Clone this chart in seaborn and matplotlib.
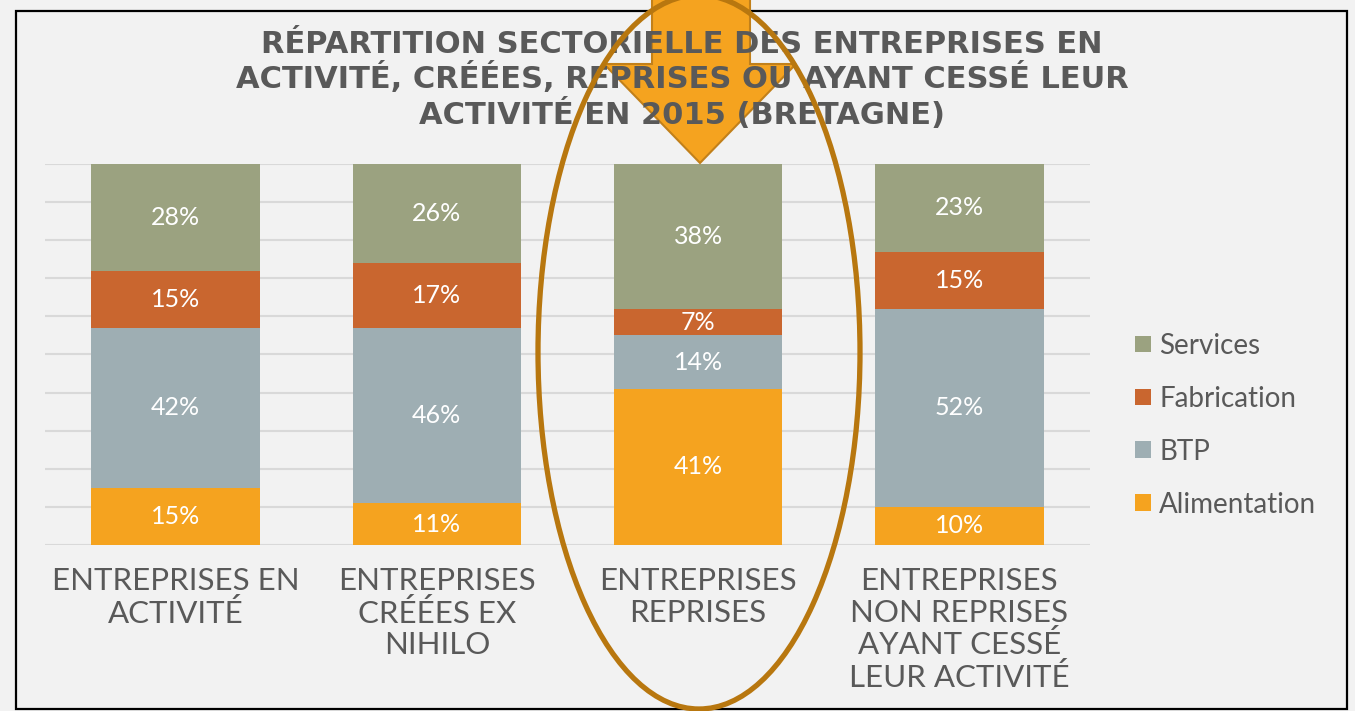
import pandas as pd
import matplotlib.pyplot as plt
import seaborn as sns
from matplotlib.patches import Ellipse, Polygon, Rectangle

# data (bottom to top of each bar), in %
categories = ["ENTREPRISES EN\nACTIVITÉ",
              "ENTREPRISES\nCRÉÉES EX\nNIHILO",
              "ENTREPRISES\nREPRISES",
              "ENTREPRISES\nNON REPRISES\nAYANT CESSÉ\nLEUR ACTIVITÉ"]
alimentation = [15, 11, 41, 10]
btp = [42, 46, 14, 52]
fabrication = [15, 17, 7, 15]
services = [28, 26, 38, 23]

title = ("RÉPARTITION SECTORIELLE DES ENTREPRISES EN\n"
         "ACTIVITÉ, CRÉÉES, REPRISES OU AYANT CESSÉ LEUR\n"
         "ACTIVITÉ EN 2015 (BRETAGNE)")

series = [("Services", services, "#9BA280"),
          ("Fabrication", fabrication, "#C9662F"),
          ("BTP", btp, "#9EAEB3"),
          ("Alimentation", alimentation, "#F5A31F")]

BG = "#f2f2f2"
TXT = "#595959"

sns.set_theme(style="white", rc={"figure.facecolor": BG, "axes.facecolor": BG})
plt.rcParams['font.family'] = ['Lato', 'DejaVu Sans']

df = pd.DataFrame({"cat": categories, "Alimentation": alimentation, "BTP": btp,
                   "Fabrication": fabrication, "Services": services})
# cumulative tops, so bars can be overlaid from the tallest down
order = ["Alimentation", "BTP", "Fabrication", "Services"]
cum = df[order].cumsum(axis=1)

fig = plt.figure(figsize=(13.55, 7.11), dpi=100)
ax = fig.add_axes([0.0332, 0.2335, 0.7712, 0.5359])

for name, vals, color in series:
    sns.barplot(x=df["cat"], y=cum[name], color=color, saturation=1, width=0.645,
                linewidth=0, label=name, ax=ax, zorder=2)

# value labels in the middle of each segment
for i in range(len(categories)):
    bottom = 0
    for name in order:
        v = df.loc[i, name]
        ax.text(i, bottom + v / 2, "{}%".format(v), ha="center", va="center",
                color="white", fontsize=18, zorder=4)
        bottom += v

ax.set_ylim(0, 100)
ax.set_xlim(-0.5, 3.5)
ax.set_yticks(range(0, 101, 10))
ax.yaxis.grid(True, color="#d9d9d9", linewidth=1.5, zorder=0)
ax.set_axisbelow(True)
ax.tick_params(axis="y", left=False, labelleft=False)
ax.tick_params(axis="x", length=0, pad=16, labelsize=22.5, labelcolor=TXT)
for lab in ax.get_xticklabels():
    lab.set_linespacing(1.15)
ax.set_xlabel("")
ax.set_ylabel("")
sns.despine(ax=ax, left=True, bottom=True)

ax.legend(loc="center left", bbox_to_anchor=(0.8195, 0.402), bbox_transform=fig.transFigure,
          frameon=False, fontsize=20, labelcolor=TXT, handlelength=0.55, handleheight=0.55,
          handletextpad=0.3, labelspacing=0.97)

# overlay in pixel coordinates: arrow, title, ellipse, frame
ov = fig.add_axes([0, 0, 1, 1], zorder=3)
ov.set_xlim(0, 1355)
ov.set_ylim(711, 0)
ov.axis("off")
ov.patch.set_alpha(0)

ov.add_patch(Rectangle((16, 11), 1331, 698, fill=False, ec="black", lw=1.6, zorder=1))
ov.add_patch(Polygon([(652, -5), (750, -5), (750, 64), (796, 64), (700, 163), (604, 64), (652, 64)],
                     closed=True, fc="#F5A31F", ec="#C2801A", lw=1.5, zorder=2))
ov.text(682, 80, title, ha="center", va="center", fontsize=22, fontweight="bold",
        family="DejaVu Sans", color=TXT, linespacing=1.13, zorder=3)
ov.add_patch(Ellipse((699, 352), 322, 714, fill=False, ec="#B8770F", lw=3.8, zorder=4))

fig.savefig("out.png", dpi=100, facecolor=BG)
